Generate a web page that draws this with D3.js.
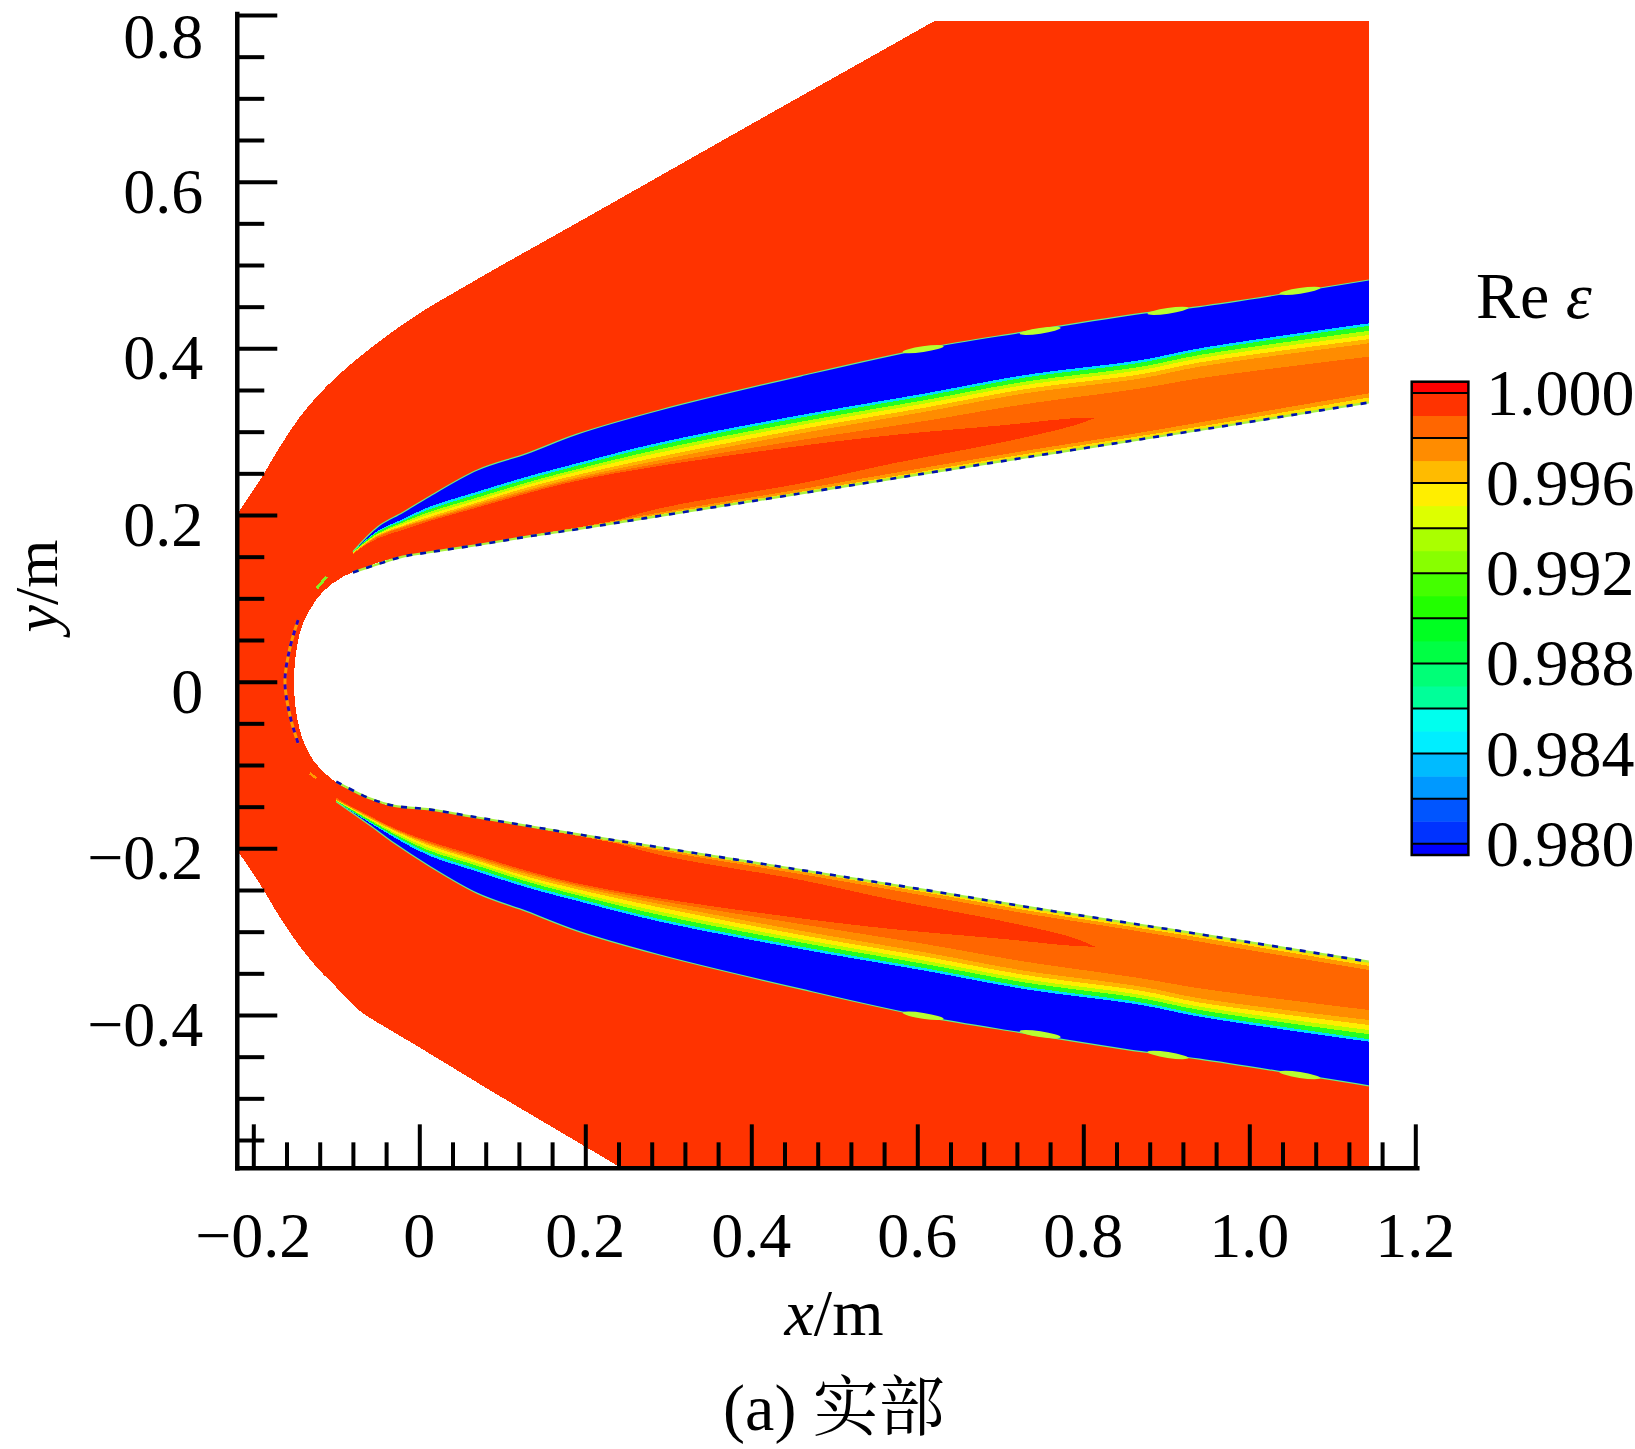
<!DOCTYPE html>
<html><head><meta charset="utf-8">
<script src="https://cdn.jsdelivr.net/npm/d3@7"></script>
<style>body{margin:0;background:#fff}svg{display:block}</style>
</head><body>
<svg id="c" width="1635" height="1449"></svg>
<script>
// ---------------- data ----------------
const X_MAJOR = [-0.2, 0, 0.2, 0.4, 0.6, 0.8, 1.0, 1.2];
const X_LABELS = ["\u22120.2", "0", "0.2", "0.4", "0.6", "0.8", "1.0", "1.2"];
const Y_MAJOR = [0.8, 0.6, 0.4, 0.2, 0, -0.2, -0.4];
const Y_LABELS = ["0.8", "0.6", "0.4", "0.2", "0", "\u22120.2", "\u22120.4"];
const XMIN = -0.2193, YMIN = -0.584, FIELD_XMAX = 1.144, FIELD_YMAX = 0.793;

// outer (shock) edge of the computed field
const SHOCK_X = [0.72, 0.621, 0.40, 0.198, 0.098, 0.05, 0.0, -0.035, -0.0717, -0.1036, -0.1196, -0.1437, -0.1678, -0.1919, -0.2065, -0.222, -0.24, -0.25, -0.24, -0.222, -0.2065, -0.1919, -0.1678, -0.1437, -0.1196, -0.1036, -0.0717, -0.035, -0.003, 0.05, 0.083, 0.244, 0.30];
const SHOCK_Y = [0.849, 0.793, 0.669, 0.555, 0.499, 0.4715, 0.442, 0.418, 0.390, 0.3621, 0.3461, 0.318, 0.282, 0.242, 0.220, 0.197, 0.165, 0.0, -0.165, -0.198, -0.221, -0.243, -0.283, -0.318, -0.347, -0.363, -0.395, -0.418, -0.437, -0.469, -0.489, -0.584, -0.618];
const FAR_X = [1.3, 1.3];
const FAR_Y = [-0.7, 0.9];

// body (white) outline
const BODY_X = [1.2, 1.144, 0.61, 0.29, 0.097, 0.017, -0.039, -0.063, -0.092, -0.116, -0.132, -0.144, -0.151, -0.144, -0.128, -0.104, -0.071, -0.039, 0.017, 0.097, 0.29, 0.61, 1.144, 1.2];
const BODY_Y = [0.344, 0.335, 0.250, 0.199, 0.168, 0.156, 0.146, 0.138, 0.126, 0.108, 0.086, 0.058, 0.0, -0.058, -0.094, -0.118, -0.136, -0.148, -0.154, -0.168, -0.199, -0.250, -0.336, -0.345];

// upper layer: contour boundaries at stations XU (outer -> inner)
const XU = [-0.08, -0.05, -0.02, 0.01, 0.07, 0.13, 0.19, 0.29, 0.46, 0.61, 0.73, 0.87, 0.94, 1.144];
const U0 = [0.156, 0.186, 0.203, 0.221, 0.254, 0.274, 0.297, 0.326, 0.367, 0.400, 0.420, 0.442, 0.450, 0.482];
const U1 = [0.156, 0.181, 0.195, 0.209, 0.228, 0.246, 0.262, 0.287, 0.320, 0.346, 0.368, 0.386, 0.400, 0.430];
const U2 = [0.156, 0.180, 0.193, 0.206, 0.225, 0.243, 0.259, 0.284, 0.317, 0.343, 0.365, 0.383, 0.397, 0.427];
const U3 = [0.155, 0.178, 0.191, 0.203, 0.221, 0.239, 0.255, 0.279, 0.312, 0.338, 0.360, 0.378, 0.392, 0.421];
const U4 = [0.155, 0.177, 0.189, 0.200, 0.218, 0.236, 0.252, 0.275, 0.308, 0.334, 0.356, 0.374, 0.388, 0.416];
const U5 = [0.154, 0.176, 0.187, 0.197, 0.215, 0.233, 0.248, 0.270, 0.303, 0.329, 0.351, 0.369, 0.383, 0.411];
const U6 = [0.154, 0.175, 0.186, 0.195, 0.213, 0.230, 0.245, 0.266, 0.298, 0.324, 0.346, 0.364, 0.378, 0.406];
const U7 = [0.153, 0.174, 0.185, 0.194, 0.211, 0.228, 0.243, 0.262, 0.290, 0.313, 0.333, 0.352, 0.364, 0.390];
const UNB = [0.131, 0.141, 0.150, 0.155, 0.164, 0.175, 0.185, 0.203, 0.231, 0.257, 0.277, 0.299, 0.311, 0.346];
const UNY = [0.131, 0.141, 0.150, 0.155, 0.164, 0.174, 0.184, 0.201, 0.228, 0.253, 0.273, 0.295, 0.306, 0.341];
const UB  = [0.131, 0.141, 0.150, 0.155, 0.164, 0.174, 0.183, 0.199, 0.226, 0.250, 0.269, 0.291, 0.302, 0.335];
// upper red tongue
const XTU = [-0.12, -0.08, -0.05, -0.02, 0.01, 0.07, 0.13, 0.19, 0.29, 0.46, 0.571, 0.706, 0.787, 0.816];
const TU_TOP = [0.120, 0.154, 0.172, 0.182, 0.192, 0.209, 0.226, 0.241, 0.259, 0.283, 0.296, 0.308, 0.316, 0.317];
const TU_BOT = [0.080, 0.110, 0.125, 0.140, 0.148, 0.155, 0.165, 0.180, 0.208, 0.238, 0.262, 0.288, 0.307, 0.317];

// lower layer
const XL = [-0.10, -0.06, -0.03, 0.01, 0.07, 0.13, 0.19, 0.29, 0.46, 0.61, 0.73, 0.87, 0.94, 1.144];
const L0 = [-0.144, -0.172, -0.194, -0.220, -0.254, -0.276, -0.299, -0.328, -0.369, -0.402, -0.422, -0.444, -0.453, -0.485];
const L1 = [-0.144, -0.169, -0.187, -0.208, -0.228, -0.247, -0.263, -0.288, -0.321, -0.347, -0.369, -0.388, -0.402, -0.432];
const L2 = [-0.144, -0.168, -0.185, -0.205, -0.225, -0.244, -0.260, -0.285, -0.318, -0.344, -0.366, -0.385, -0.399, -0.429];
const L3 = [-0.143, -0.166, -0.183, -0.202, -0.221, -0.240, -0.256, -0.280, -0.313, -0.339, -0.361, -0.380, -0.394, -0.423];
const L4 = [-0.143, -0.165, -0.181, -0.199, -0.218, -0.237, -0.253, -0.276, -0.309, -0.335, -0.357, -0.376, -0.390, -0.418];
const L5 = [-0.142, -0.164, -0.179, -0.196, -0.215, -0.234, -0.249, -0.271, -0.304, -0.330, -0.352, -0.371, -0.385, -0.412];
const L6 = [-0.142, -0.163, -0.178, -0.194, -0.213, -0.231, -0.246, -0.267, -0.299, -0.325, -0.347, -0.366, -0.380, -0.406];
const L7 = [-0.141, -0.162, -0.177, -0.193, -0.211, -0.229, -0.244, -0.263, -0.291, -0.315, -0.336, -0.356, -0.368, -0.394];
const LNB = [-0.120, -0.140, -0.149, -0.153, -0.163, -0.174, -0.185, -0.203, -0.231, -0.257, -0.278, -0.300, -0.312, -0.346];
const LNY = [-0.120, -0.140, -0.149, -0.153, -0.163, -0.173, -0.184, -0.201, -0.228, -0.253, -0.274, -0.296, -0.307, -0.341];
const LB  = [-0.120, -0.140, -0.149, -0.153, -0.163, -0.173, -0.183, -0.199, -0.226, -0.250, -0.270, -0.292, -0.303, -0.336];
const XTL = [-0.13, -0.10, -0.06, -0.03, 0.01, 0.07, 0.13, 0.19, 0.29, 0.46, 0.571, 0.706, 0.787, 0.814];
const TL_TOP = [-0.070, -0.100, -0.120, -0.135, -0.146, -0.154, -0.165, -0.180, -0.208, -0.238, -0.262, -0.288, -0.307, -0.318];
const TL_BOT = [-0.110, -0.139, -0.161, -0.176, -0.191, -0.209, -0.227, -0.242, -0.260, -0.284, -0.297, -0.309, -0.317, -0.318];

// small spots on the outer edge of the blue layers
const UBUMP_X = [0.607, 0.748, 0.902, 1.061];
const UBUMP_Y = [0.399, 0.421, 0.445, 0.469];
const LBUMP_X = [0.607, 0.748, 0.902, 1.061];
const LBUMP_Y = [-0.401, -0.423, -0.448, -0.472];
const BUMP_W = 0.05, BUMP_H = 0.007;

// thin arc in front of the nose
const ARC_X = [-0.146, -0.156, -0.1619, -0.156, -0.146];
const ARC_Y = [0.074, 0.040, 0.0, -0.040, -0.074];
const SLIVER_U_X = [-0.1236, -0.1116], SLIVER_U_Y = [0.112, 0.126];
const SLIVER_L_X = [-0.132, -0.124], SLIVER_L_Y = [-0.110, -0.116];

// colour bar
const CB_EDGES = [0.9795, 0.980, 0.981, 0.982, 0.983, 0.984, 0.985, 0.986, 0.987, 0.988, 0.989, 0.990, 0.991, 0.992, 0.993, 0.994, 0.995, 0.996, 0.997, 0.998, 0.999, 1.000, 1.0005];
const CB_COLORS = ["#0000FF","#0033FF","#0055FF","#0099FF","#00BBFF","#00EEFF","#00FFEE","#00FF99","#00FF77","#00FF44","#00FF22","#22FF00","#44FF00","#88FF00","#AAFF00","#DDFF00","#FFEE00","#FFBB00","#FF8C00","#FF6600","#FF3300","#FF0000"];
const CB_LINES = [0.980, 0.982, 0.984, 0.986, 0.988, 0.990, 0.992, 0.994, 0.996, 0.998, 1.000];
const CB_TICKS = [1.000, 0.996, 0.992, 0.988, 0.984, 0.980];
const CB_LABELS = ["1.000", "0.996", "0.992", "0.988", "0.984", "0.980"];

const C_RED = "#FF3300", C_ORANGE = "#FF6600", C_LORANGE = "#FF9900", C_YEL = "#FFE000";
const STRIP_COLORS = ["#0000FF", "#00DDFF", "#22FF22", "#B4FF00", "#FFEE00", "#FFB400", "#FF8C00"];

// ---------------- drawing ----------------
const svg = d3.select("#c");
svg.append("rect").attr("width", 1635).attr("height", 1449).attr("fill", "#fff");
const x = d3.scaleLinear().domain([-0.2, 1.2]).range([253.3, 1415.3]);
const y = d3.scaleLinear().domain([-0.4, 0.8]).range([1015, 15]);
const FONT = "'Liberation Serif','Times New Roman',serif";

const zip = (xs, ys) => xs.map((v, i) => [v, ys[i]]);
const lineC = d3.line().x(d => x(d[0])).y(d => y(d[1])).curve(d3.curveCatmullRom.alpha(0.5));
const lineL = d3.line().x(d => x(d[0])).y(d => y(d[1]));
function band(top, bot) {
  const a = lineC(top);
  const b = lineC(bot.slice().reverse());
  return a + "L" + b.slice(1) + "Z";
}

const cx0 = Math.round(x(XMIN)), cx1 = Math.round(x(FIELD_XMAX));
const cy0 = Math.round(y(FIELD_YMAX)), cy1 = Math.round(y(YMIN));
svg.append("clipPath").attr("id", "fc").append("rect")
  .attr("x", cx0).attr("y", cy0).attr("width", cx1 - cx0).attr("height", cy1 - cy0);
const f = svg.append("g").attr("clip-path", "url(#fc)").attr("shape-rendering", "crispEdges");

// red field
f.append("path").attr("fill", C_RED)
  .attr("d", lineC(zip(SHOCK_X, SHOCK_Y)) + "L" + lineL(zip(FAR_X, FAR_Y)).slice(1) + "Z");

function layer(XS, curves, nb, ny, bodyLine, XT, tTop, tBot) {
  f.append("path").attr("fill", C_ORANGE).attr("d", band(zip(XS, curves[curves.length - 1]), zip(XS, bodyLine)));
  f.append("path").attr("fill", C_RED).attr("d", band(zip(XT, tTop), zip(XT, tBot)));
  for (let i = 0; i < curves.length - 1; i++) {
    f.append("path").attr("fill", STRIP_COLORS[i]).attr("d", band(zip(XS, curves[i]), zip(XS, curves[i + 1])));
  }
  f.append("path").attr("fill", C_LORANGE).attr("d", band(zip(XS, nb), zip(XS, bodyLine)));
  f.append("path").attr("fill", C_YEL).attr("d", band(zip(XS, ny), zip(XS, bodyLine)));
  f.append("path").attr("fill", "none").attr("stroke", "#66EE88").attr("stroke-width", 1.2)
    .attr("shape-rendering", "auto").attr("d", lineC(zip(XS, curves[0])));
}
layer(XU, [U0, U1, U2, U3, U4, U5, U6, U7], UNB, UNY, UB, XTU, TU_TOP, TU_BOT);
layer(XL, [L0, L1, L2, L3, L4, L5, L6, L7], LNB, LNY, LB, XTL, TL_BOT, TL_TOP);

// spots
const ang = Math.atan2(y(U0[13]) - y(U0[11]), x(XU[13]) - x(XU[11])) * 180 / Math.PI;
const angL = Math.atan2(y(L0[13]) - y(L0[11]), x(XL[13]) - x(XL[11])) * 180 / Math.PI;
function spot(bx, by, a) {
  f.append("ellipse").attr("fill", "#B8FF30").attr("shape-rendering", "auto")
    .attr("cx", x(bx)).attr("cy", y(by))
    .attr("rx", x(bx + BUMP_W / 2) - x(bx)).attr("ry", y(0) - y(BUMP_H / 2))
    .attr("transform", `rotate(${a},${x(bx)},${y(by)})`);
}
UBUMP_X.forEach((bx, i) => spot(bx, UBUMP_Y[i], ang));
LBUMP_X.forEach((bx, i) => spot(bx, LBUMP_Y[i], angL));

// body
f.append("path").attr("fill", "#fff").attr("d", lineC(zip(BODY_X, BODY_Y)) + "Z");
[UB, LB].forEach((arr, k) => {
  const XS = k === 0 ? XU : XL;
  f.append("path").attr("fill", "none").attr("stroke", "#A8F040").attr("stroke-width", 2.2)
    .attr("shape-rendering", "auto").attr("d", lineC(zip(XS, arr)));
  f.append("path").attr("fill", "none").attr("stroke", "#0010B0").attr("stroke-width", 2.6)
    .attr("stroke-dasharray", "6 8").attr("shape-rendering", "auto").attr("d", lineC(zip(XS, arr)));
});
// nose arc and slivers
f.append("path").attr("fill", "none").attr("stroke", "#FF9900").attr("stroke-width", 3)
  .attr("shape-rendering", "auto").attr("d", lineC(zip(ARC_X, ARC_Y)));
f.append("path").attr("fill", "none").attr("stroke", "#3000C0").attr("stroke-width", 3)
  .attr("stroke-dasharray", "5 6").attr("shape-rendering", "auto").attr("d", lineC(zip(ARC_X, ARC_Y)));
f.append("path").attr("fill", "none").attr("stroke", "#88EE22").attr("stroke-width", 3)
  .attr("d", lineL(zip(SLIVER_U_X, SLIVER_U_Y)));
f.append("path").attr("fill", "none").attr("stroke", "#FF9900").attr("stroke-width", 2.5)
  .attr("d", lineL(zip(SLIVER_L_X, SLIVER_L_Y)));

// ---------------- axes ----------------
const near = (a, b) => Math.abs(a - b) < 1e-6;
const X_MINOR = d3.range(-0.16, 1.2001, 0.04).filter(v => !X_MAJOR.some(m => near(m, v)));
const Y_MINOR = d3.range(-0.55, 0.8, 0.05).filter(v => !Y_MAJOR.some(m => near(m, v)));

function styleAxis(g) {
  g.select(".domain").remove();
  g.selectAll("line").attr("stroke", "#000").attr("stroke-width", 4);
  g.selectAll("text").remove();
}
const ax = svg.append("g");
ax.append("g").attr("transform", `translate(0,${y(YMIN)})`)
  .call(d3.axisBottom(x).tickValues(X_MAJOR).tickSize(-44).tickSizeOuter(0)).call(styleAxis);
ax.append("g").attr("transform", `translate(0,${y(YMIN)})`)
  .call(d3.axisBottom(x).tickValues(X_MINOR).tickSize(-26).tickSizeOuter(0)).call(styleAxis);
ax.append("g").attr("transform", `translate(${x(XMIN)},0)`)
  .call(d3.axisLeft(y).tickValues(Y_MAJOR).tickSize(-40).tickSizeOuter(0)).call(styleAxis);
ax.append("g").attr("transform", `translate(${x(XMIN)},0)`)
  .call(d3.axisLeft(y).tickValues(Y_MINOR).tickSize(-27).tickSizeOuter(0)).call(styleAxis);
ax.append("line").attr("x1", x(XMIN)).attr("x2", x(1.2) + 2).attr("y1", y(YMIN)).attr("y2", y(YMIN))
  .attr("stroke", "#000").attr("stroke-width", 4.5).attr("stroke-linecap", "square");
ax.append("line").attr("x1", x(XMIN)).attr("x2", x(XMIN)).attr("y1", y(0.8) - 1).attr("y2", y(YMIN))
  .attr("stroke", "#000").attr("stroke-width", 4.5).attr("stroke-linecap", "square");

// tick labels
svg.append("g").selectAll("text").data(X_MAJOR).join("text")
  .attr("x", d => x(d)).attr("y", y(YMIN) + 89).attr("text-anchor", "middle")
  .attr("font-family", FONT).attr("font-size", 64).text((d, i) => X_LABELS[i]);
svg.append("g").selectAll("text").data(Y_MAJOR).join("text")
  .attr("x", x(XMIN) - 34).attr("y", d => Math.max(y(d) + 31, 58)).attr("text-anchor", "end")
  .attr("font-family", FONT).attr("font-size", 64).text((d, i) => Y_LABELS[i]);

// axis titles
const xt = svg.append("text").attr("x", 834).attr("y", 1335).attr("text-anchor", "middle")
  .attr("font-family", FONT).attr("font-size", 66);
xt.append("tspan").attr("font-style", "italic").text("x");
xt.append("tspan").text("/m");
const yt = svg.append("text").attr("transform", "translate(57,586) rotate(-90)").attr("text-anchor", "middle")
  .attr("font-family", FONT).attr("font-size", 62);
yt.append("tspan").attr("font-style", "italic").text("y");
yt.append("tspan").text("/m");
svg.append("text").attr("x", 834).attr("y", 1430).attr("text-anchor", "middle")
  .attr("font-family", "'Liberation Serif','Noto Serif CJK SC','Noto Sans CJK SC',serif").attr("font-size", 66)
  .text("(a) \u5b9e\u90e8");

// ---------------- colour bar ----------------
const cb = d3.scaleLinear().domain([0.9795, 1.0005]).range([855, 381.7]);
const CBX = 1411.7, CBW = 56.7;
const g = svg.append("g");
g.selectAll("rect.b").data(CB_COLORS).join("rect").attr("class", "b")
  .attr("x", CBX).attr("width", CBW)
  .attr("y", (d, i) => cb(CB_EDGES[i + 1])).attr("height", (d, i) => cb(CB_EDGES[i]) - cb(CB_EDGES[i + 1]) + 0.5)
  .attr("fill", d => d);
g.selectAll("line").data(CB_LINES).join("line")
  .attr("x1", CBX).attr("x2", CBX + CBW).attr("y1", d => cb(d)).attr("y2", d => cb(d))
  .attr("stroke", "#000").attr("stroke-width", 2);
g.append("rect").attr("x", CBX).attr("y", cb(1.0005)).attr("width", CBW).attr("height", cb(0.9795) - cb(1.0005))
  .attr("fill", "none").attr("stroke", "#000").attr("stroke-width", 2.5);
g.selectAll("text").data(CB_TICKS).join("text")
  .attr("x", 1486).attr("y", d => cb(d) + 22).attr("font-family", FONT).attr("font-size", 66)
  .text((d, i) => CB_LABELS[i]);
const rt = svg.append("text").attr("x", 1476).attr("y", 318).attr("font-family", FONT).attr("font-size", 66);
rt.append("tspan").text("Re ");
rt.append("tspan").attr("font-style", "italic").text("\u03b5");
</script>
</body></html>
